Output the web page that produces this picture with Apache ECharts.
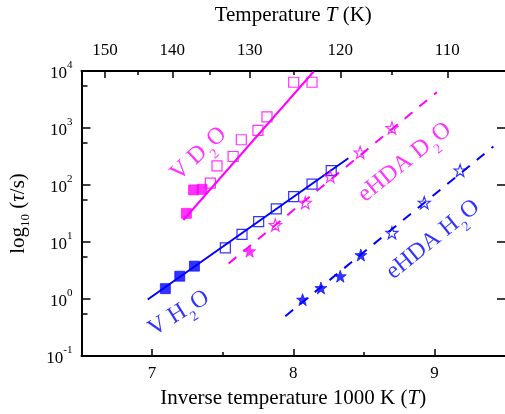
<!DOCTYPE html>
<html><head><meta charset="utf-8">
<script src="https://cdn.jsdelivr.net/npm/echarts@6/dist/echarts.min.js"></script>
<style>html,body{margin:0;padding:0;background:#fff}#c{width:505px;height:414px}</style>
</head><body><div id="c"></div>
<script>
// ---- data (x = 1000/T in K^-1, y = tau in s) ----
const vd2oFilled = [[7.243, 31.8], [7.294, 82], [7.354, 84]];
const vd2oOpen = [[7.413, 108], [7.460, 217], [7.574, 316], [7.632, 622], [7.750, 908], [7.814, 1563], [8.003, 6350], [8.133, 6350]];
const vd2oFit = [[7.222, 24.3], [8.145, 9800]];

const vh2oFilled = [[7.094, 1.52], [7.196, 2.51], [7.300, 3.77]];
const vh2oOpen = [[7.519, 7.9], [7.637, 13.6], [7.755, 22.7], [7.880, 38], [8.003, 62.5], [8.133, 104], [8.269, 179]];
const vh2oFit = [[6.969, 0.98], [8.390, 295]];

const ehdaD2oFilled = [[7.691, 6.9]];
const ehdaD2oOpen = [[7.873, 19.9], [8.085, 49], [8.262, 141], [8.474, 372], [8.699, 1000]];
const ehdaD2oFit = [[7.542, 4.2], [9.017, 4240]];

const ehdaH2oFilled = [[8.066, 0.975], [8.196, 1.56], [8.333, 2.51], [8.479, 5.9]];
const ehdaH2oOpen = [[8.699, 14.5], [8.928, 49], [9.182, 180]];
const ehdaH2oFit = [[7.944, 0.50], [9.418, 474]];

// annotation anchors (data coords) and rotations
const labelVD2O = [7.33, 350];
const labelVH2O = [7.19, 0.56];
const labelEhdaD2O = [8.79, 250];
const labelEhdaH2O = [8.99, 11.0];

// axis ticks
const topMajorT = [150, 140, 130, 120, 110];
const topMinorT = [145, 135, 125, 115];
const bottomMajor = [7, 8, 9];
const bottomMinor = [7.5, 8.5];

const MAG = '#ff00ff', BLUE = '#0000ff';
const FONT = '"Liberation Serif", "DejaVu Serif", serif';
const STAR = 'path://M50,0L61.76,33.82L97.55,34.55L69.02,56.18L79.39,90.45L50,70L20.61,90.45L30.98,56.18L2.45,34.55L38.24,33.82Z';

function openSym(name, data, color, symbol, size) {
  return { name, type: 'scatter', xAxisIndex: 0, yAxisIndex: 0, data, symbol, symbolSize: size, z: 5,
    itemStyle: { color: 'rgba(255,255,255,0)', borderColor: color, borderWidth: 1.2 } };
}
function filledSym(name, data, color, symbol, size) {
  return { name, type: 'scatter', xAxisIndex: 0, yAxisIndex: 0, data, symbol, symbolSize: size, z: 5,
    itemStyle: { color: color, borderColor: color, borderWidth: 0.8 } };
}
function fit(name, data, color, dashed) {
  return { name, type: 'line', xAxisIndex: 0, yAxisIndex: 0, data, symbol: 'none', z: 3,
    lineStyle: { color, width: 2, type: dashed ? [10, 9] : 'solid' } };
}
function annot(pos, color, main1, sub, main2, rot) {
  return { type: 'scatter', xAxisIndex: 0, yAxisIndex: 0, data: [pos], symbolSize: 0, z: 6, silent: true,
    label: { show: true, position: 'inside', rotate: rot, color,
      formatter: '{t|' + main1 + '}{s|' + sub + '}{t|' + main2 + '}',
      rich: {
        t: { fontFamily: FONT, fontSize: 24, color, lineHeight: 36, verticalAlign: 'middle' },
        s: { fontFamily: FONT, fontSize: 14, color, lineHeight: 36, verticalAlign: 'bottom', padding: [0, 1, 0, 1] }
      } } };
}

const axisLineStyle = { color: '#000', width: 2 };
const chart = echarts.init(document.getElementById('c'), null, { renderer: 'canvas' });
chart.setOption({
  animation: false,
  backgroundColor: '#fff',
  grid: { left: 81, right: 0, top: 71, bottom: 58 },
  xAxis: [
    { type: 'value', position: 'bottom', min: 6.5, max: 9.5, interval: 0.5,
      axisLine: { show: true, lineStyle: axisLineStyle },
      axisTick: { show: true, inside: true, length: 7, customValues: bottomMajor, lineStyle: { color: '#000', width: 1.5 } },
      axisLabel: { customValues: bottomMajor, color: '#000', fontFamily: FONT, fontSize: 17, margin: 9 },
      splitLine: { show: false },
      name: '{r|Inverse temperature 1000 K (}{i|T}{r|)}', nameLocation: 'middle', nameGap: 32,
      nameTextStyle: { rich: { r: { fontFamily: FONT, fontSize: 21, color: '#000' }, i: { fontFamily: FONT, fontSize: 21, fontStyle: 'italic', color: '#000' } } } },
    { type: 'value', position: 'bottom', min: 6.5, max: 9.5, interval: 0.5,
      axisLine: { show: false }, axisLabel: { show: false }, splitLine: { show: false },
      axisTick: { show: true, inside: true, length: 4, customValues: bottomMinor, lineStyle: { color: '#000', width: 1.5 } } },
    { type: 'value', position: 'top', min: 6.5, max: 9.5, interval: 0.5,
      axisLine: { show: true, lineStyle: axisLineStyle },
      axisTick: { show: true, inside: true, length: 7, customValues: topMajorT.map(t => 1000 / t), lineStyle: { color: '#000', width: 1.5 } },
      axisLabel: { customValues: topMajorT.map(t => 1000 / t), formatter: v => String(Math.round(1000 / v)), color: '#000', fontFamily: FONT, fontSize: 17, margin: 12 },
      splitLine: { show: false },
      name: '{r|Temperature }{i|T}{r| (K)}', nameLocation: 'middle', nameGap: 45,
      nameTextStyle: { rich: { r: { fontFamily: FONT, fontSize: 21, color: '#000' }, i: { fontFamily: FONT, fontSize: 21, fontStyle: 'italic', color: '#000' } } } },
    { type: 'value', position: 'top', min: 6.5, max: 9.5, interval: 0.5,
      axisLine: { show: false }, axisLabel: { show: false }, splitLine: { show: false },
      axisTick: { show: true, inside: true, length: 4, customValues: topMinorT.map(t => 1000 / t), lineStyle: { color: '#000', width: 1.5 } } }
  ],
  yAxis: [
    { type: 'log', logBase: 10, min: 0.1, max: 10000, position: 'left',
      axisLine: { show: true, lineStyle: axisLineStyle },
      axisTick: { show: true, inside: true, length: 9, lineStyle: { color: '#000', width: 1.5 } },
      minorTick: { show: true, splitNumber: 2, length: 6, lineStyle: { color: '#000', width: 1.5 } },
      splitLine: { show: false }, minorSplitLine: { show: false },
      axisLabel: { color: '#000', margin: 9,
        formatter: v => '{b|10}{e|' + Math.round(Math.log10(v)) + '}',
        rich: { b: { fontFamily: FONT, fontSize: 17, lineHeight: 22, verticalAlign: 'bottom' }, e: { fontFamily: FONT, fontSize: 11, lineHeight: 22, verticalAlign: 'top' } } },
      name: '{r|log}{s|10}{r| (}{i|τ}{r|/s)}', nameLocation: 'middle', nameGap: 49, nameRotate: 90,
      nameTextStyle: { rich: {
        r: { fontFamily: FONT, fontSize: 21, color: '#000', lineHeight: 28, verticalAlign: 'middle' },
        s: { fontFamily: FONT, fontSize: 13, color: '#000', lineHeight: 28, verticalAlign: 'bottom' },
        i: { fontFamily: FONT, fontSize: 21, fontStyle: 'italic', color: '#000', lineHeight: 28, verticalAlign: 'middle' } } } },
    { type: 'log', logBase: 10, min: 0.1, max: 10000, position: 'right',
      axisLine: { show: false }, axisLabel: { show: false }, splitLine: { show: false },
      axisTick: { show: true, inside: true, length: 8, lineStyle: { color: '#000', width: 1.5 } } }
  ],
  series: [
    fit('VD2O fit', vd2oFit, MAG, false),
    fit('VH2O fit', vh2oFit, BLUE, false),
    fit('eHDA D2O fit', ehdaD2oFit, MAG, true),
    fit('eHDA H2O fit', ehdaH2oFit, BLUE, true),
    filledSym('VD2O filled', vd2oFilled, MAG, 'rect', 10),
    openSym('VD2O open', vd2oOpen, MAG, 'rect', 10),
    filledSym('VH2O filled', vh2oFilled, BLUE, 'rect', 10),
    openSym('VH2O open', vh2oOpen, BLUE, 'rect', 10),
    filledSym('eHDA D2O filled', ehdaD2oFilled, MAG, STAR, 12),
    openSym('eHDA D2O open', ehdaD2oOpen, MAG, STAR, 12),
    filledSym('eHDA H2O filled', ehdaH2oFilled, BLUE, STAR, 12),
    openSym('eHDA H2O open', ehdaH2oOpen, BLUE, STAR, 12),
    annot(labelVD2O, MAG, 'V D', '2', 'O', 43),
    annot(labelVH2O, BLUE, 'V H', '2', 'O', 32),
    annot(labelEhdaD2O, MAG, 'eHDA D', '2', 'O', 39),
    annot(labelEhdaH2O, BLUE, 'eHDA H', '2', 'O', 39)
  ]
});
</script></body></html>
